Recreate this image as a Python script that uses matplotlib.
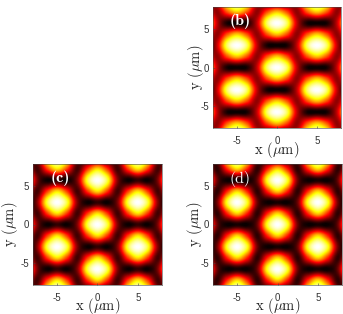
import matplotlib
matplotlib.use('Agg')
import matplotlib.pyplot as plt
import numpy as np

plt.rcParams['mathtext.fontset'] = 'cm'
plt.rcParams['axes.unicode_minus'] = False

x_grid = [0, 1.25, 2.5, 3.75, 5, 6.25, 7.5, 8.75]
y_grid = [0, 1.45, 2.9, 4.35, 5.8, 7.25, 8.7]

panel_b = [
    [1.00, 0.84, 0.28, 0.02, 0.00, 0.02, 0.28, 0.84],
    [0.66, 0.48, 0.20, 0.48, 0.66, 0.48, 0.20, 0.48],
    [0.00, 0.02, 0.28, 0.84, 1.00, 0.84, 0.28, 0.02],
    [0.66, 0.48, 0.20, 0.48, 0.66, 0.48, 0.20, 0.48],
    [1.00, 0.84, 0.28, 0.02, 0.00, 0.02, 0.28, 0.84],
    [0.66, 0.48, 0.20, 0.48, 0.66, 0.48, 0.20, 0.48],
    [0.00, 0.02, 0.28, 0.84, 1.00, 0.84, 0.28, 0.02],
]
panel_c = [
    [1.00, 0.80, 0.18, 0.00, 0.06, 0.00, 0.18, 0.80],
    [0.70, 0.44, 0.08, 0.44, 0.70, 0.44, 0.08, 0.44],
    [0.06, 0.00, 0.18, 0.80, 1.00, 0.80, 0.18, 0.00],
    [0.70, 0.44, 0.08, 0.44, 0.70, 0.44, 0.08, 0.44],
    [1.00, 0.80, 0.18, 0.00, 0.06, 0.00, 0.18, 0.80],
    [0.70, 0.44, 0.08, 0.44, 0.70, 0.44, 0.08, 0.44],
    [0.06, 0.00, 0.18, 0.80, 1.00, 0.80, 0.18, 0.00],
]
panel_d = [
    [1.00, 0.78, 0.15, 0.00, 0.02, 0.00, 0.15, 0.78],
    [0.68, 0.41, 0.05, 0.41, 0.68, 0.41, 0.05, 0.41],
    [0.02, 0.00, 0.15, 0.78, 1.00, 0.78, 0.15, 0.00],
    [0.68, 0.41, 0.05, 0.41, 0.68, 0.41, 0.05, 0.41],
    [1.00, 0.78, 0.15, 0.00, 0.02, 0.00, 0.15, 0.78],
    [0.68, 0.41, 0.05, 0.41, 0.68, 0.41, 0.05, 0.41],
    [0.02, 0.00, 0.15, 0.78, 1.00, 0.78, 0.15, 0.00],
]
ticks = [-5, 0, 5]
x_label = r'x ($\mu$m)'
y_label = r'y ($\mu$m)'

W, H = 343, 314
fig = plt.figure(figsize=(W / 100, H / 100), dpi=100)


def mirror(q):
    q = np.array(q)
    full = np.vstack([q[:0:-1], q])
    return np.hstack([full[:, :0:-1], full])


def draw(values, box, tag, tag_font, ylab_offset):
    left, top, right, bottom = box
    ax = fig.add_axes([left / W, 1 - bottom / H, (right - left) / W, (bottom - top) / H])
    dx = x_grid[1] - x_grid[0]
    dy = y_grid[1] - y_grid[0]
    ext = [-x_grid[-1] - dx / 2, x_grid[-1] + dx / 2, -y_grid[-1] - dy / 2, y_grid[-1] + dy / 2]
    # catrom passes through the read values, bicubic blurs them
    ax.imshow(mirror(values), cmap='hot', vmin=0, vmax=1, origin='lower', extent=ext,
              aspect='auto', interpolation='catrom')
    ax.set_xlim(-8, 8)
    ax.set_ylim(-7.9, 7.9)
    ax.set_xticks(ticks)
    ax.set_yticks(ticks)
    ax.tick_params(direction='in', length=1.5, width=0.4, color='#444444', labelsize=7,
                   labelcolor='#333333')
    ax.tick_params(axis='x', pad=6)
    ax.tick_params(axis='y', pad=3)
    for lab in ax.get_xticklabels() + ax.get_yticklabels():
        lab.set_family('Liberation Sans')
    for s in ax.spines.values():
        s.set_linewidth(0.4)
        s.set_color('#444444')
    ax.set_xlabel(x_label, family='cmr10', fontsize=10.5, color='#222222')
    ax.xaxis.set_label_coords(0.5, -11.5 / (bottom - top))
    ax.set_ylabel(y_label, family='cmr10', fontsize=10.5, color='#222222')
    ax.yaxis.set_label_coords(-ylab_offset / (right - left), 0.5)
    ax.text(0.21, 0.88, tag, transform=ax.transAxes, family=tag_font, fontsize=11.5,
            color='white', ha='center', va='center')


draw(panel_b, (213, 7, 341, 128), '(b)', 'cmb10', 7)
draw(panel_c, (33, 164, 162, 285), '(c)', 'cmb10', 13)
draw(panel_d, (213, 164, 342, 285), '(d)', 'cmr10', 8)

fig.savefig('out.png', dpi=100)
